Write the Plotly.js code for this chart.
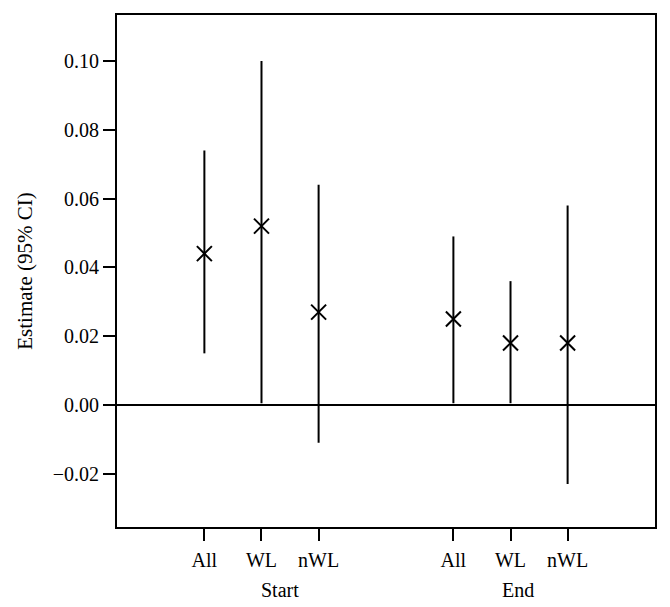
<!DOCTYPE html>
<html lang="en">
<head>
    <meta charset="UTF-8">
    <title>Estimate (95% CI)</title>
    <script src="https://cdn.plot.ly/plotly-3.0.1.min.js"></script>
    <style>
        body { margin: 0; background: #fff; }
        #chart { width: 670px; height: 607px; }
    </style>
</head>
<body>
    <div id="chart"></div>
    <script>
        // Values
        const labels = ['All', 'WL', 'nWL', 'All', 'WL', 'nWL'];
        const positions = [1, 2, 3, 5.36, 6.36, 7.36];
        const estimate = [0.044, 0.052, 0.027, 0.025, 0.018, 0.018];
        const upper = [0.074, 0.100, 0.064, 0.049, 0.036, 0.058];
        const lower = [0.015, 0.0005, -0.011, 0.0005, 0.0005, -0.023];
        const groups = ['Start', 'End'];
        const groupPos = [2.32, 6.49];

        const font = 'Liberation Serif, Times New Roman, serif';

        const trace = {
            x: positions,
            y: estimate,
            type: 'scatter',
            mode: 'markers',
            marker: {
                symbol: 'x-thin-open',
                size: 15,
                color: '#000',
                line: { color: '#000', width: 2 }
            },
            error_y: {
                type: 'data',
                symmetric: false,
                array: upper.map((u, i) => u - estimate[i]),
                arrayminus: estimate.map((e, i) => e - lower[i]),
                width: 0,
                thickness: 2,
                color: '#000'
            },
            hoverinfo: 'skip'
        };

        const layout = {
            width: 670,
            height: 607,
            margin: { l: 117, r: 15, t: 15, b: 80 },
            paper_bgcolor: '#fff',
            plot_bgcolor: '#fff',
            showlegend: false,
            font: { family: font, size: 20, color: '#000' },
            xaxis: {
                range: [-0.53, 8.89],
                tickmode: 'array',
                tickvals: positions,
                ticktext: labels,
                ticks: 'outside',
                ticklen: 12,
                tickwidth: 2,
                tickcolor: '#000',
                showgrid: false,
                zeroline: false,
                showline: true,
                mirror: true,
                linecolor: '#000',
                linewidth: 2,
                ticklabelstandoff: 2
            },
            yaxis: {
                range: [-0.0355, 0.1134],
                tickvals: [-0.02, 0, 0.02, 0.04, 0.06, 0.08, 0.1],
                tickformat: '.2f',
                ticks: 'outside',
                ticklen: 12,
                tickwidth: 2,
                tickcolor: '#000',
                showgrid: false,
                zeroline: true,
                zerolinecolor: '#000',
                zerolinewidth: 1.5,
                showline: true,
                mirror: true,
                linecolor: '#000',
                linewidth: 2,
                title: { text: 'Estimate (95% CI)', font: { size: 21 }, standoff: 14 }
            },
            annotations: groups.map((g, i) => ({
                x: groupPos[i],
                y: 0,
                xref: 'x',
                yref: 'paper',
                yshift: -50,
                yanchor: 'top',
                text: g,
                showarrow: false,
                font: { size: 20 }
            }))
        };

        Plotly.newPlot('chart', [trace], layout, { staticPlot: true });
    </script>
</body>
</html>
